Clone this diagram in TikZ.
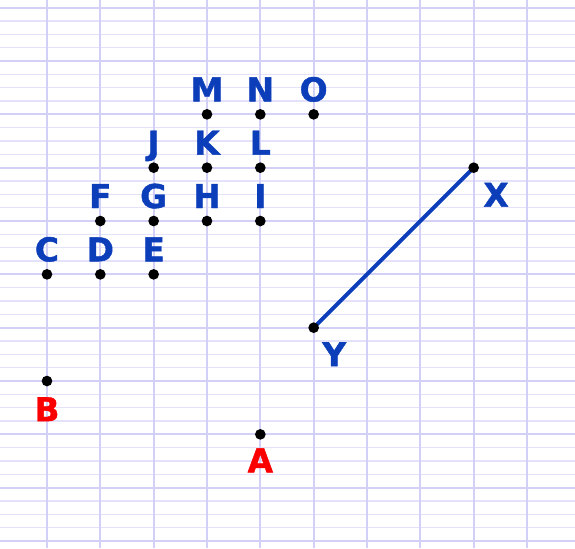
\documentclass[tikz,border=0pt]{standalone}
\usepackage{fontspec}
\setmainfont{DejaVu Sans}
\newfontfamily\ptfont{DejaVu Sans Bold}[FakeBold=1.3]
\usetikzlibrary{positioning, backgrounds}

\definecolor{ptblue}{RGB}{12,62,186}
\definecolor{ptred}{RGB}{250,0,0}
\definecolor{gridmajor}{RGB}{210,208,246}
\definecolor{gridminor}{RGB}{228,226,250}

\begin{document}
\begin{tikzpicture}[dot/.style={circle, fill=black, inner sep=0pt, minimum size=0.2cm},
    lbl/.style={font=\ptfont\fontsize{17.5}{20}\selectfont, text=ptblue, inner sep=0pt, text depth=0pt},
    node distance=0.13cm]
        \useasboundingbox (-0.881,-2.132) rectangle (9.9,8.144);

        % Grid paper
        \begin{scope}[on background layer]
        \draw[gridminor, line width=0.8pt, xstep=20, ystep=0.25] (-0.881,-2.132) grid (9.9,8.144);
        \draw[gridmajor, line width=1.1pt, step=1] (-0.881,-2.132) grid (9.9,8.144);
        \end{scope}

        % Blue points
        \foreach \n/\x/\y in {C/0/3, D/1/3, E/2/3, F/1/4, G/2/4, H/3/4, I/4/4,
                J/2/5, K/3/5, L/4/5, M/3/6, N/4/6, O/5/6} {
            \node[dot] (p\n) at (\x,\y) {};
            \node[lbl, above=of p\n] (l\n) {\n};
        }

        % Red points
        \node[dot] (pA) at (4,0) {};
        \node[lbl, text=ptred, below=0.15cm of pA] (lA) {A};
        \node[dot] (pB) at (0,1) {};
        \node[lbl, text=ptred, below=0.19cm of pB] (lB) {B};

        % Segment
        \node[dot] (pX) at (8,5) {};
        \node[lbl, below right=0.2cm and 0.1cm of pX] (lX) {X};
        \node[dot] (pY) at (5,2) {};
        \node[lbl, below right=0.19cm and 0.08cm of pY] (lY) {Y};
        \begin{scope}[on background layer]
        \draw[ptblue, line width=2.1pt] (pY.center) -- (pX.center);
        \end{scope}
    \end{tikzpicture}
\end{document}
